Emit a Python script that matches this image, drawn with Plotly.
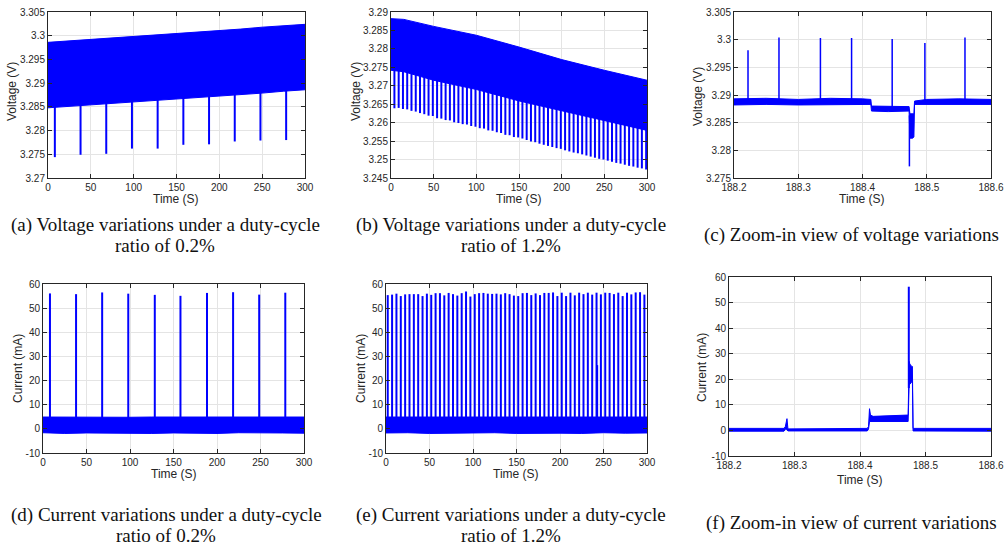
import plotly.graph_objects as go
import numpy as np

W, H = 1008, 546
BLUE = "#0000FF"
INK = "#262626"

# ---------------- data ----------------
# (a) voltage, duty-cycle 0.2 %
env_t_a = [0, 25, 50, 75, 100, 125, 150, 175, 200, 225, 250, 275, 300]
env_hi_a = [3.2986, 3.2989, 3.2993, 3.2995, 3.2999, 3.3002, 3.3005, 3.3008, 3.3011, 3.3014, 3.3018, 3.3021, 3.3024]
env_lo_a = [3.2848, 3.2851, 3.2854, 3.2857, 3.2861, 3.2864, 3.2867, 3.2870, 3.2873, 3.2876, 3.2879, 3.2883, 3.2886]
spike_t_a = [8, 38, 68, 98, 128, 158, 188, 218, 248, 278]
spike_min_a = [3.2744, 3.2749, 3.2751, 3.2762, 3.2762, 3.2770, 3.2771, 3.2777, 3.2779, 3.2780]

# (b) voltage, duty-cycle 1.2 %
env_t_b = [0, 15, 50, 100, 150, 200, 250, 300]
env_hi_b = [3.2882, 3.2880, 3.2861, 3.2837, 3.2805, 3.2771, 3.2742, 3.2715]
env_lo_b = [3.2742, 3.2738, 3.2715, 3.2690, 3.2659, 3.2633, 3.2605, 3.2579]
spike_t_b = [4, 9, 14, 19, 24, 29, 34, 39, 44, 49, 54, 59, 64, 69, 74, 79, 84, 89, 94, 99,
             104, 109, 114, 119, 124, 129, 134, 139, 144, 149, 154, 159, 164, 169, 174, 179, 184, 189, 194, 199,
             204, 209, 214, 219, 224, 229, 234, 239, 244, 249, 254, 259, 264, 269, 274, 279, 284, 289, 294, 299]
spike_min_b = [3.2639, 3.2640, 3.2637, 3.2636, 3.2632, 3.2630, 3.2626, 3.2623, 3.2619, 3.2618,
               3.2612, 3.2611, 3.2607, 3.2606, 3.2601, 3.2599, 3.2596, 3.2595, 3.2591, 3.2589,
               3.2585, 3.2584, 3.2579, 3.2578, 3.2574, 3.2572, 3.2567, 3.2566, 3.2561, 3.2560,
               3.2557, 3.2553, 3.2549, 3.2547, 3.2543, 3.2540, 3.2537, 3.2534, 3.2531, 3.2529,
               3.2525, 3.2522, 3.2519, 3.2517, 3.2514, 3.2511, 3.2508, 3.2505, 3.2502, 3.2500,
               3.2497, 3.2494, 3.2491, 3.2489, 3.2486, 3.2483, 3.2481, 3.2478, 3.2476, 3.2473]

# (c) zoom-in voltage
env_t_c = [188.2, 188.25, 188.3, 188.35, 188.4, 188.4130, 188.4140, 188.44, 188.4725, 188.4738,
           188.4780, 188.4800, 188.4810, 188.50, 188.55, 188.6]
env_hi_c = [3.2893, 3.2894, 3.2892, 3.2894, 3.2893, 3.2892, 3.2880, 3.2880, 3.2879, 3.2866,
            3.2866, 3.2866, 3.2889, 3.2892, 3.2893, 3.2892]
env_lo_c = [3.2882, 3.2883, 3.2882, 3.2883, 3.2883, 3.2883, 3.2871, 3.2870, 3.2871, 3.2822,
            3.2822, 3.2824, 3.2883, 3.2883, 3.2882, 3.2883]
spike_t_c = [188.2218, 188.2700, 188.3345, 188.3830, 188.4462, 188.4971, 188.5595]
spike_max_c = [3.2981, 3.3004, 3.3003, 3.3003, 3.3001, 3.2994, 3.3004]
dip_t_c = [188.4730]
dip_min_c = [3.2771]

# (d) current, duty-cycle 0.2 %
env_t_d = [0, 25, 50, 75, 100, 125, 150, 175, 200, 225, 250, 275, 300]
env_hi_d = [4.9, 4.8, 4.9, 4.9, 4.8, 4.9, 4.9, 4.8, 4.9, 4.9, 4.8, 4.9, 4.9]
env_lo_d = [-1.6, -1.9, -1.7, -1.8, -1.6, -1.9, -1.7, -1.8, -1.9, -1.6, -1.8, -1.7, -1.8]
spike_t_d = [8, 38, 68, 98, 128.5, 158, 188.5, 218.5, 248.5, 278.5]
spike_max_d = [56.1, 55.8, 56.5, 56.0, 55.5, 55.1, 56.3, 56.6, 55.6, 56.4]

# (e) current, duty-cycle 1.2 %
env_t_e = [0, 25, 50, 75, 100, 125, 150, 175, 200, 225, 250, 275, 300]
env_hi_e = [4.9, 4.9, 4.8, 4.9, 4.9, 4.8, 4.9, 4.9, 4.8, 4.9, 4.9, 4.8, 4.9]
env_lo_e = [-1.7, -1.6, -1.9, -1.7, -1.8, -1.6, -1.9, -1.7, -1.8, -1.9, -1.6, -1.8, -1.7]
spike_t_e = [2, 7, 12, 17, 22, 27, 32, 37, 42, 47, 52, 57, 62, 67, 72, 77, 82, 87, 92, 97,
             102, 107, 112, 117, 122, 127, 132, 137, 142, 147, 152, 157, 162, 167, 172, 177, 182, 187, 192, 197,
             202, 207, 212, 217, 222, 227, 232, 237, 242, 247, 252, 257, 262, 267, 272, 277, 282, 287, 292, 297]
spike_max_e = [55.4, 55.6, 56.0, 55.0, 55.7, 55.8, 55.8, 55.8, 55.0, 56.0,
               55.5, 56.2, 56.2, 55.3, 56.3, 55.8, 55.2, 56.2, 56.9, 54.8,
               55.8, 56.2, 56.3, 56.0, 55.9, 56.0, 55.7, 56.2, 55.8, 55.2,
               55.0, 56.2, 56.3, 55.4, 56.1, 55.4, 56.3, 56.3, 56.5, 55.0,
               56.4, 55.0, 56.4, 55.3, 56.4, 55.8, 56.4, 55.6, 56.4, 55.7,
               56.4, 56.3, 55.8, 56.4, 55.0, 56.4, 55.7, 56.5, 56.6, 55.6]
part_t_e = [243]
part_max_e = [26.4]

# (f) zoom-in current
env_t_f = [188.2, 188.2840, 188.2860, 188.2875, 188.2885, 188.2900, 188.4110, 188.4130, 188.4145,
           188.4160, 188.4200, 188.4720, 188.4735, 188.4750, 188.4760, 188.4790, 188.4800, 188.4810, 188.6]
env_hi_f = [0.8, 0.8, 1.5, 4.6, 4.6, 0.6, 0.8, 1.5, 8.5, 6.0, 5.5, 6.0, 6.0, 27.0, 26.0, 25.0, 25.0, 0.8, 0.8]
env_lo_f = [-0.3, -0.3, 0.5, 0.5, 0.2, -0.2, -0.2, 0.5, 3.5, 3.5, 3.3, 3.3, 3.5, 18.0, 18.0, 19.0, 19.0, -0.2, -0.3]
spike_t_f = [188.4745]
spike_max_f = [56.2]

# tick labels
ticks_time = [0, 50, 100, 150, 200, 250, 300]
ticks_zoom = [188.2, 188.3, 188.4, 188.5, 188.6]
ticks_zoom_txt = ["188.2", "188.3", "188.4", "188.5", "188.6"]
ticks_va = [3.27, 3.275, 3.28, 3.285, 3.29, 3.295, 3.3, 3.305]
ticks_va_txt = ["3.27", "3.275", "3.28", "3.285", "3.29", "3.295", "3.3", "3.305"]
ticks_vb = [3.245, 3.25, 3.255, 3.26, 3.265, 3.27, 3.275, 3.28, 3.285, 3.29]
ticks_vb_txt = ["3.245", "3.25", "3.255", "3.26", "3.265", "3.27", "3.275", "3.28", "3.285", "3.29"]
ticks_vc = [3.275, 3.28, 3.285, 3.29, 3.295, 3.3, 3.305]
ticks_vc_txt = ["3.275", "3.28", "3.285", "3.29", "3.295", "3.3", "3.305"]
ticks_i = [-10, 0, 10, 20, 30, 40, 50, 60]

captions = {
    1: ["(a) Voltage variations under a duty-cycle", "ratio of 0.2%"],
    2: ["(b) Voltage variations under a duty-cycle", "ratio of 1.2%"],
    3: ["(c) Zoom-in view of voltage variations"],
    4: ["(d) Current variations under a duty-cycle", "ratio of 0.2%"],
    5: ["(e) Current variations under a duty-cycle", "ratio of 1.2%"],
    6: ["(f) Zoom-in view of current variations"],
}

# ---------------- figure ----------------
fig = go.Figure()


def band(i, t, hi, lo):
    ax = dict(xaxis=f"x{i}", yaxis=f"y{i}", showlegend=False, hoverinfo="skip")
    fig.add_trace(go.Scatter(x=t, y=hi, mode="lines", line=dict(color=BLUE, width=1), **ax))
    fig.add_trace(go.Scatter(x=t, y=lo, mode="lines", line=dict(color=BLUE, width=1),
                             fill="tonexty", fillcolor=BLUE, **ax))


def spikes(i, t, ends, base_t, base_hi, base_lo, width=2):
    mid = (np.interp(t, base_t, base_hi) + np.interp(t, base_t, base_lo)) / 2
    xs, ys = [], []
    for tt, b, e in zip(t, mid, ends):
        xs += [tt, tt, None]
        ys += [b, e, None]
    fig.add_trace(go.Scatter(x=xs, y=ys, mode="lines", line=dict(color=BLUE, width=width),
                             xaxis=f"x{i}", yaxis=f"y{i}", showlegend=False, hoverinfo="skip"))


band(1, env_t_a, env_hi_a, env_lo_a)
spikes(1, spike_t_a, spike_min_a, env_t_a, env_hi_a, env_lo_a)
band(2, env_t_b, env_hi_b, env_lo_b)
spikes(2, spike_t_b, spike_min_b, env_t_b, env_hi_b, env_lo_b)
band(3, env_t_c, env_hi_c, env_lo_c)
spikes(3, spike_t_c, spike_max_c, env_t_c, env_hi_c, env_lo_c, width=1.5)
spikes(3, dip_t_c, dip_min_c, env_t_c, env_hi_c, env_lo_c, width=1.5)
band(4, env_t_d, env_hi_d, env_lo_d)
spikes(4, spike_t_d, spike_max_d, env_t_d, env_hi_d, env_lo_d)
band(5, env_t_e, env_hi_e, env_lo_e)
spikes(5, spike_t_e, spike_max_e, env_t_e, env_hi_e, env_lo_e)
spikes(5, part_t_e, part_max_e, env_t_e, env_hi_e, env_lo_e, width=1.5)
band(6, env_t_f, env_hi_f, env_lo_f)
spikes(6, spike_t_f, spike_max_f, env_t_f, env_hi_f, env_lo_f)

# pixel boxes of the six axes: (left, right, top, bottom)
boxes = {
    1: (48, 305, 12, 178),
    2: (391, 647, 12, 178),
    3: (734, 991, 12, 178),
    4: (43, 304, 284, 453),
    5: (386, 647, 284, 453),
    6: (729, 991, 277, 456),
}
xr = {1: [0, 300], 2: [0, 300], 3: [188.2, 188.6], 4: [0, 300], 5: [0, 300], 6: [188.2, 188.6]}
yr = {1: [3.27, 3.305], 2: [3.245, 3.29], 3: [3.275, 3.305], 4: [-10, 60], 5: [-10, 60], 6: [-10, 60]}
xt = {1: (ticks_time, [str(v) for v in ticks_time]), 2: (ticks_time, [str(v) for v in ticks_time]),
      3: (ticks_zoom, ticks_zoom_txt), 4: (ticks_time, [str(v) for v in ticks_time]),
      5: (ticks_time, [str(v) for v in ticks_time]), 6: (ticks_zoom, ticks_zoom_txt)}
yt = {1: (ticks_va, ticks_va_txt), 2: (ticks_vb, ticks_vb_txt), 3: (ticks_vc, ticks_vc_txt),
      4: (ticks_i, [str(v) for v in ticks_i]), 5: (ticks_i, [str(v) for v in ticks_i]),
      6: (ticks_i, [str(v) for v in ticks_i])}

tickfont = dict(family="Liberation Sans, Arial, sans-serif", size=10, color=INK)
common = dict(showline=True, linecolor=INK, linewidth=1, mirror="ticks", ticks="inside",
              ticklen=4, tickcolor=INK, showgrid=True, gridcolor="#e4e4e4", gridwidth=1,
              zeroline=False, tickfont=tickfont, fixedrange=True, automargin=False)

layout = {}
for i, (l, r, t, b) in boxes.items():
    layout[f"xaxis{i}"] = dict(domain=[l / W, r / W], anchor=f"y{i}", range=xr[i],
                               tickmode="array", tickvals=xt[i][0], ticktext=xt[i][1], **common)
    layout[f"yaxis{i}"] = dict(domain=[1 - b / H, 1 - t / H], anchor=f"x{i}", range=yr[i],
                               tickmode="array", tickvals=yt[i][0], ticktext=yt[i][1], **common)

annotations = []
titlefont = dict(family="Liberation Sans, Arial, sans-serif", size=12, color=INK)
capfont = dict(family="Liberation Serif, Times New Roman, serif", size=19, color="#111111")


def ann(x, y, text, font, angle=0):
    annotations.append(dict(x=x / W, y=1 - y / H, xref="paper", yref="paper", text=text,
                            showarrow=False, font=font, textangle=angle,
                            xanchor="center", yanchor="middle"))


# y-axis titles
ann(12, 92, "Voltage (V)", titlefont, -90)
ann(356, 92, "Voltage (V)", titlefont, -90)
ann(698, 97, "Voltage (V)", titlefont, -90)
ann(18, 369, "Current (mA)", titlefont, -90)
ann(361, 369, "Current (mA)", titlefont, -90)
ann(702, 368, "Current (mA)", titlefont, -90)
# x-axis titles
ann(176, 199, "Time (S)", titlefont)
ann(519, 199, "Time (S)", titlefont)
ann(862, 199, "Time (S)", titlefont)
ann(174, 474, "Time (S)", titlefont)
ann(516, 474, "Time (S)", titlefont)
ann(860, 480, "Time (S)", titlefont)

# captions
cap_x = {1: 165, 2: 511, 3: 851, 4: 166, 5: 511, 6: 851}
cap_y = {1: [225, 246], 2: [225, 246], 3: [235], 4: [515, 535], 5: [515, 535], 6: [523]}
for i, lines in captions.items():
    for txt, yy in zip(lines, cap_y[i]):
        ann(cap_x[i], yy, txt, capfont)

fig.update_layout(
    template="none",
    width=W, height=H, margin=dict(l=0, r=0, t=0, b=0, autoexpand=False),
    paper_bgcolor="white", plot_bgcolor="white",
    annotations=annotations, showlegend=False, **layout,
)

fig.write_html("out.html")
